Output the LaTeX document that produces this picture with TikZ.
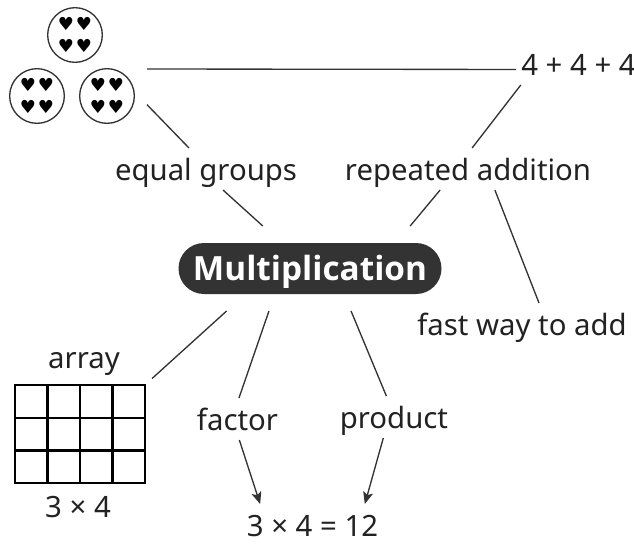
\documentclass[tikz,border=0pt]{standalone}
\usepackage{fontspec}
\setmainfont{Noto Sans}
\newfontfamily\hubfont{Open Sans}
\newfontfamily\symfont{DejaVu Sans}
\usetikzlibrary{arrows.meta,positioning}
\definecolor{inkgray}{RGB}{34,34,34}
\definecolor{hubgray}{RGB}{51,51,51}

\begin{document}
\begin{tikzpicture}[
      x=0.75pt,y=-0.75pt,
      word/.style={font=\fontsize{22}{26}\selectfont, text=inkgray, anchor=base, inner xsep=4pt, inner ysep=0pt, outer sep=0pt, text height=24pt, text depth=7.5pt},
      hub/.style={fill=hubgray, text=white, font=\hubfont\bfseries\fontsize{25}{30}\selectfont, rounded corners=19.1pt, minimum width=197.25pt, minimum height=38.25pt, inner sep=0pt, outer sep=12.75pt, text height=18pt, text depth=0pt},
      link/.style={draw=hubgray, line width=1pt},
      arrowlink/.style={link, -{Stealth[length=9pt,width=7.5pt,inset=2pt]}},
      ring/.style={draw=hubgray, line width=1pt},
      heart/.style={font=\symfont\fontsize{13.5}{13.5}\selectfont, text=black, inner sep=0pt},
      cell/.style={draw=black, line width=1.8pt}
    ]
      \fill[white] (0,0) rectangle (634,544);
      \useasboundingbox (0,0) rectangle (634,544);
      \node[minimum width=105pt, minimum height=90pt, inner sep=0pt, outer sep=0pt] (groups) at (77,69) {};
      \foreach \cx/\cy [count=\g] in {75/35,37/96,107/96} {
        \draw[ring] (\cx,\cy) circle[radius=20.5pt];
        \foreach \hx/\hy [count=\k] in {-9/-11,9/-11,-9/11,9/11}
          \node[heart] (heart\g\k) at ({\cx+\hx},{\cy+\hy}) {♥};
      }
      \node[hub] (mult) at (310,268.5) {Multiplication};
      \node[word] (eq) at (206,180) {equal groups};
      \node[word] (rep) at (468,180) {repeated addition};
      \node[word] (sum) at (578.5,75) {4 + 4 + 4};
      \node[word] (fast) at (522,335) {fast way to add};
      \node[word] (array) at (84,368) {array};
      \node[word] (factor) at (237.5,430) {factor};
      \node[word] (product) at (394,428) {product};
      \node[word] (dims) at (78,517) {3 × 4};
      \node[word, text depth=0pt] (result) at (312.5,536) {3 × 4 = 12};
      \node[cell, minimum width=97.5pt, minimum height=73.5pt, inner sep=0pt] (grid) at (80,434) {};
      \foreach \gx in {47.5,80,112.5} \draw[cell] (\gx,385) -- (\gx,483);
      \foreach \gy in {417.7,450.3} \draw[cell] (15,\gy) -- (145,\gy);
      \draw[link] (groups.east) -- (sum.185);
      \draw[link] (groups.333) -- (eq.129);
      \draw[link] (eq.309) -- (mult.138);
      \draw[link] (sum.200) -- (rep.79);
      \draw[link] (rep.217) -- (mult.23);
      \draw[link] (rep.322) -- (fast.51);
      \draw[link, shorten >=6pt] (mult.207) -- (grid.north east);
      \draw[link] (mult.226.5) -- (factor.86);
      \draw[link] (mult.314) -- (product.110);
      \draw[arrowlink] (factor.275) -- (result.163);
      \draw[arrowlink] (product.243) -- (result.17);
    \end{tikzpicture}
\end{document}
